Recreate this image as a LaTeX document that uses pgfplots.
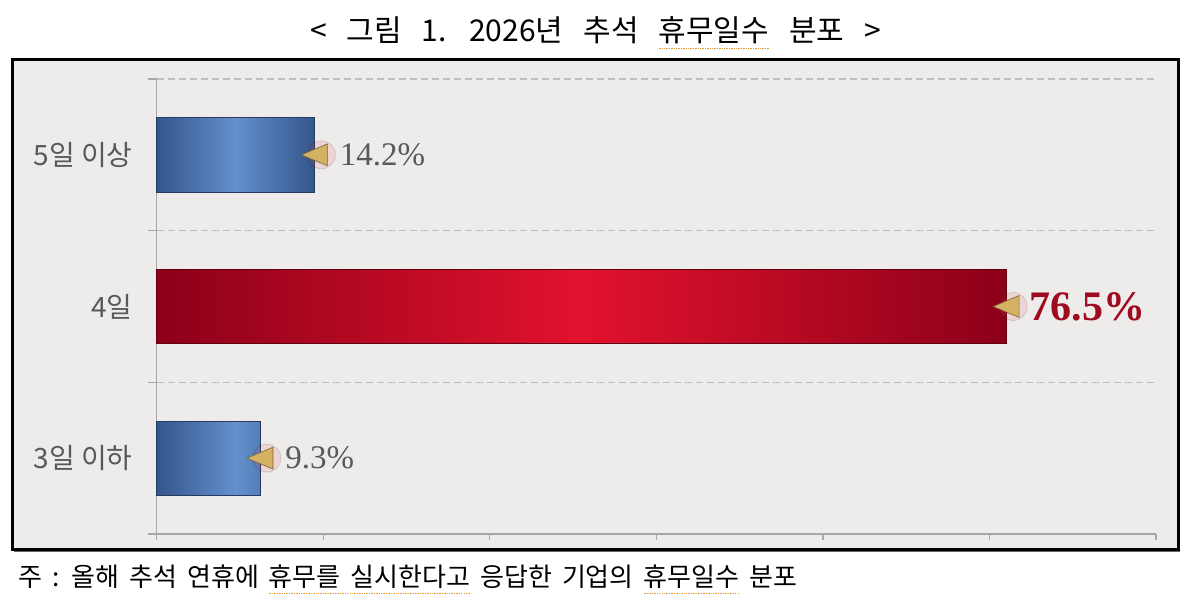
\documentclass[border=0pt]{standalone}
\usepackage{pgfplots}
\pgfplotsset{compat=1.18}
\usepackage{fontspec}
\setmainfont{Liberation Serif}
\newfontfamily\kr{Noto Sans CJK KR}

\definecolor{paper}{RGB}{237,236,234}
\definecolor{labgray}{RGB}{89,89,89}
\definecolor{axgray}{RGB}{166,166,166}
\definecolor{gridgray}{RGB}{191,191,191}
\definecolor{blueedge}{RGB}{52,86,140}
\definecolor{bluemid}{RGB}{100,144,205}
\definecolor{rededge}{RGB}{140,0,24}
\definecolor{redmid}{RGB}{226,18,46}
\definecolor{gold}{RGB}{212,178,100}
\definecolor{glow}{RGB}{240,60,70}
\definecolor{pctred}{RGB}{160,10,32}
\definecolor{spell}{RGB}{236,150,50}

% spell-check style dotted underline
\newcommand\spell[1]{\setbox0=\hbox{#1}\rlap{\usebox0}\raisebox{-3.5pt}{\textcolor{spell}{\hbox to\wd0{\xleaders\hbox to 1.2pt{\hss\rule{0.7pt}{0.7pt}\hss}\hfill}}}}

\begin{document}
\begin{tikzpicture}
\path[use as bounding box] (0,0) rectangle (599.5pt,305pt);

% frame
\fill[black!60] (7pt,29pt) rectangle (590pt,274pt);
\filldraw[fill=paper, draw=black, line width=1.5pt] (6pt,30pt) rectangle (589pt,275pt);

\begin{axis}[
    at={(78.35pt,38pt)}, anchor=south west,
    scale only axis, width=499.65pt, height=227.5pt,
    xmin=0, xmax=90, ymin=-0.5, ymax=2.5,
    axis x line=bottom, axis y line=left,
    axis line style={-, draw=axgray, line width=0.6pt},
    xtick={0,15,...,90}, xticklabels={},
    ytick={0,1,2}, yticklabels={3일 이하,4일,5일 이상},
    yticklabel style={font=\kr\fontsize{14}{16}\selectfont, text=labgray, xshift=-5.5pt},
    major y tick style={draw=none},
    minor ytick={-0.5,0.5,1.5,2.5},
    yminorgrids,
    minor y grid style={gridgray, dash pattern=on 3.5pt off 2pt, line width=0.6pt},
    tick align=outside, major tick length=3pt, minor tick length=4.5pt,
    tick style={axgray, line width=0.6pt},
    bar width=0.49, bar shift=0pt,
    /pgf/number format/assume math mode=true,
    clip=false,
]

\addplot[xbar, draw=blueedge!70!black, line width=0.4pt,
    left color=blueedge, right color=blueedge, middle color=bluemid,
    point meta=x,
    nodes near coords={\pgfmathprintnumber[fixed,precision=1,fixed zerofill]{\pgfplotspointmeta}\%},
    nodes near coords style={anchor=west, xshift=12.5pt, inner sep=0pt,
        font=\fontsize{16.5}{18}\selectfont, text=labgray}]
    coordinates {(9.3,0) (14.2,2)};

\addplot[xbar, draw=rededge!70!black, line width=0.4pt,
    left color=rededge, right color=rededge, middle color=redmid,
    point meta=x,
    nodes near coords={\pgfmathprintnumber[fixed,precision=1,fixed zerofill]{\pgfplotspointmeta}\%},
    nodes near coords style={anchor=west, xshift=11.5pt, inner sep=0pt,
        font=\bfseries\fontsize{21}{24}\selectfont, text=pctred}]
    coordinates {(76.5,1)};

% soft red glow and gold cone at the bar ends
\addplot[only marks, mark=*, mark size=7pt,
    mark options={xshift=3.5pt, fill=glow, draw=none, opacity=0.13}]
    coordinates {(9.3,0) (14.2,2) (76.5,1)};
\addplot[only marks, mark=triangle*, mark size=6.35pt,
    mark options={xshift=2.2pt, rotate=90, yscale=1.365, fill=gold, draw=gold!55!black, line width=0.3pt}]
    coordinates {(9.3,0) (14.2,2) (76.5,1)};
\end{axis}

\node[anchor=base, inner sep=0pt, font=\kr\fontsize{15}{17}\selectfont]
    at (297.75pt,284pt) {\spaceskip=10pt\relax < 그림 1. 2026년 추석 \spell{휴무일수} 분포 >};
\node[anchor=base west, inner sep=0pt, font=\kr\fontsize{13}{15}\selectfont]
    at (9pt,11.5pt) {\spaceskip=5pt\relax 주 : 올해 추석 연휴에 \spell{휴무를 실시한다고} 응답한 기업의 \spell{휴무일수} 분포};
\end{tikzpicture}
\end{document}
